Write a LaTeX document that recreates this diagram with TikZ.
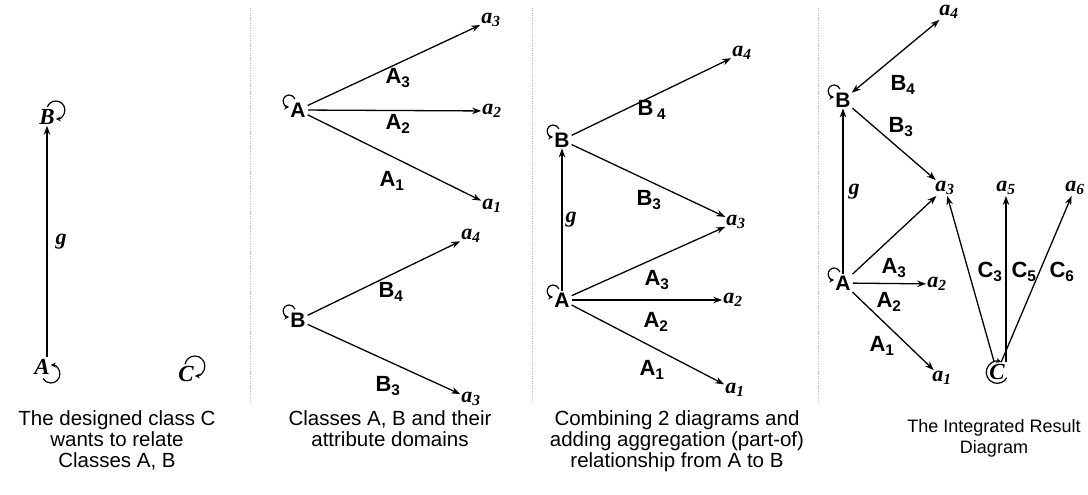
\documentclass[tikz,border=0pt]{standalone}
\usepackage{fontspec}
\setmainfont{Liberation Serif}
\setsansfont{Liberation Sans}
\usetikzlibrary{arrows.meta,positioning}
\newcommand\sub[1]{\textsubscript{#1}}

\begin{document}
\begin{tikzpicture}[x=1pt,y=1pt,>={Stealth[length=9pt,width=6.5pt]},
  cls/.style={font=\fontsize{21}{21}\sffamily\bfseries,inner sep=1pt},
  clsi/.style={font=\fontsize{23}{23}\selectfont\bfseries\itshape,inner sep=1pt},
  att/.style={font=\fontsize{22}{22}\selectfont\bfseries\itshape,inner sep=1pt},
  lbl/.style={font=\fontsize{22}{22}\sffamily\bfseries,inner sep=0pt},
  captxt/.style={font=\fontsize{20.5}{21}\sffamily,align=center,inner sep=0pt,anchor=north},
  sep/.style={gray!55,line width=.8pt,dash pattern=on 1pt off 1.5pt},
  ln/.style={->,line width=1.3pt,shorten <=1pt},
  lp/.style={{Stealth[length=5pt,width=5pt]}-,line width=1.2pt}]
  \useasboundingbox (0,0) rectangle (1088,-495);
  % panel separators
  \draw[sep] (250,-8) -- (250,-402);
  \draw[sep] (532,-8) -- (532,-402);
  \draw[sep] (818,-8) -- (818,-402);

  % panel 1: the designed class
  \node[clsi] (p1B) at (47,-117) {B};
  \node[clsi] (p1A) at (42,-367) {A};
  \node[clsi] (p1C) at (186,-374) {C};
  \draw[ln] (p1A.north -| p1B) -- (p1B.south) node[pos=.5,right=7pt,att] (p1g) {g};
  \draw[lp] ([yshift=-2pt]p1B.east) arc[start angle=-90,end angle=160,radius=9pt];
  \draw[lp] ([yshift=2pt]p1A.east) arc[start angle=90,end angle=-150,radius=9pt];
  \draw[lp] ([yshift=-2pt]p1C.east) arc[start angle=-90,end angle=170,radius=10pt];
  \node[captxt] (cap1) at (117,-410) {The designed class C\\wants to relate\\Classes A, B};

  % panel 2: attribute domains
  \node[cls] (p2A) at (298,-110) {A};
  \node[att] (p2a3) at (491,-20) {a\sub3};
  \node[att] (p2a2) at (492,-111) {a\sub2};
  \node[att] (p2a1) at (492,-206) {a\sub1};
  \node[cls] (p2B) at (298,-320) {B};
  \node[att] (p2a4) at (471,-236) {a\sub4};
  \node[att] (p2a3b) at (471,-399) {a\sub3};
  \draw[ln] (p2A) -- (p2a3);
  \draw[ln] (p2A) -- (p2a2);
  \draw[ln] (p2A) -- (p2a1);
  \draw[ln] (p2B) -- (p2a4);
  \draw[ln] (p2B) -- (p2a3b);
  \draw[lp] ([yshift=3pt]p2A.west) arc[start angle=270,end angle=20,radius=6pt];
  \draw[lp] ([yshift=3pt]p2B.west) arc[start angle=270,end angle=20,radius=6pt];
  \node[lbl] (p2l3) at (398,-78) {A\sub3};
  \node[lbl] (p2l2) at (398,-124) {A\sub2};
  \node[lbl] (p2l1) at (392,-181) {A\sub1};
  \node[lbl] (p2l4) at (391,-292) {B\sub4};
  \node[lbl] (p2l5) at (388,-386) {B\sub3};
  \node[captxt] (cap2) at (390,-410) {Classes A, B and their\\attribute domains};

  % panel 3: combining with aggregation
  \node[cls] (p3B) at (562,-140) {B};
  \node[cls] (p3A) at (562,-300) {A};
  \node[att] (p3a4) at (742,-53) {a\sub4};
  \node[att] (p3a3) at (736,-222) {a\sub3};
  \node[att] (p3a2) at (733,-300) {a\sub2};
  \node[att] (p3a1) at (735,-390) {a\sub1};
  \draw[ln] (p3A) -- (p3B) node[pos=.5,right=2pt,att] (p3g) {g};
  \draw[ln] (p3B) -- (p3a4);
  \draw[ln] (p3B) -- (p3a3);
  \draw[ln] (p3A) -- (p3a3);
  \draw[ln] (p3A) -- (p3a2);
  \draw[ln] (p3A) -- (p3a1);
  \draw[lp] ([yshift=3pt]p3B.west) arc[start angle=270,end angle=20,radius=6pt];
  \draw[lp] ([yshift=3pt]p3A.west) arc[start angle=270,end angle=20,radius=6pt];
  \node[lbl] (p3l4) at (652,-110) {B\,\sub4};
  \node[lbl] (p3l5) at (649,-200) {B\sub3};
  \node[lbl] (p3l3) at (657,-280) {A\sub3};
  \node[lbl] (p3l2) at (656,-322) {A\sub2};
  \node[lbl] (p3l1) at (652,-370) {A\sub1};
  \node[captxt] (cap3) at (677,-410) {Combining 2 diagrams and\\adding aggregation (part-of)\\relationship from A to B};

  % panel 4: integrated result
  \node[cls] (p4B) at (843,-100) {B};
  \node[cls] (p4A) at (843,-283) {A};
  \node[clsi] (p4C) at (997,-372) {C};
  \node[att] (p4a4) at (949,-12) {a\sub4};
  \node[att] (p4a3) at (945,-188) {a\sub3};
  \node[att] (p4a5) at (1006,-188) {a\sub5};
  \node[att] (p4a6) at (1075,-188) {a\sub6};
  \node[att] (p4a2) at (937,-284) {a\sub2};
  \node[att] (p4a1) at (942,-378) {a\sub1};
  \draw[<->,line width=1.3pt] (p4B) -- (p4a4);
  \draw[ln] (p4B) -- (p4a3);
  \draw[ln] (p4A) -- (p4B) node[pos=.5,right=4pt,att] (p4g) {g};
  \draw[ln] (p4A) -- (p4a3);
  \draw[ln] (p4A) -- (p4a2);
  \draw[ln] (p4A) -- (p4a1);
  \draw[ln] (p4C) -- (p4a3);
  \draw[ln] (p4C.north -| p4a5) -- (p4a5);
  \draw[ln] (p4C) -- (p4a6);
  \draw[lp] ([yshift=3pt]p4B.west) arc[start angle=270,end angle=20,radius=6pt];
  \draw[lp] ([yshift=3pt]p4A.west) arc[start angle=270,end angle=20,radius=6pt];
  \draw[lp] ([shift={(4pt,10pt)}]p4C.center) arc[start angle=70,end angle=330,radius=11pt];
  \node[lbl] (p4l4) at (903,-85) {B\sub4};
  \node[lbl] (p4l5) at (901,-127) {B\sub3};
  \node[lbl] (p4l3) at (894,-268) {A\sub3};
  \node[lbl] (p4l2) at (889,-302) {A\sub2};
  \node[lbl] (p4l1) at (882,-346) {A\sub1};
  \node[lbl] (p4c3) at (990,-272) {C\sub3};
  \node[lbl] (p4c5) at (1024,-272) {C\sub5};
  \node[lbl] (p4c6) at (1062,-272) {C\sub6};
  \node[captxt,font=\fontsize{18}{21}\sffamily] (cap4) at (994,-419) {The Integrated Result\\Diagram};
\end{tikzpicture}
\end{document}
